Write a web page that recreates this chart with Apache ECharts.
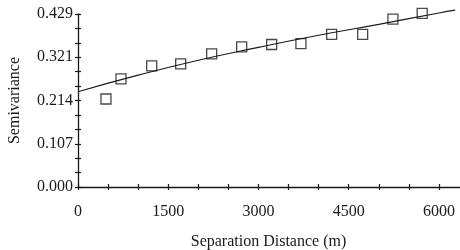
<!DOCTYPE html>
<html>
<head>
<meta charset="utf-8">
<script src="https://cdn.jsdelivr.net/npm/echarts@6/dist/echarts.min.js"></script>
<style>
  html, body { margin: 0; padding: 0; background: #fff; }
  #chart { width: 460px; height: 250px; }
</style>
</head>
<body>
<div id="chart"></div>
<script>
// observed semivariance points
var distance = [465, 715, 1225, 1707, 2222, 2721, 3219, 3706, 4217, 4732, 5235, 5722];
var semivariance = [0.218, 0.268, 0.300, 0.305, 0.330, 0.347, 0.353, 0.355, 0.378, 0.378, 0.416, 0.430];

// fitted model curve
var modelDistance = [0, 1000, 2000, 3000, 4000, 5000, 6000, 6270];
var modelValue = [0.236, 0.277, 0.314, 0.346, 0.376, 0.403, 0.431, 0.438];

// tick labels
var xTickLabels = ['0', '1500', '3000', '4500', '6000'];
var yTickLabels = ['0.000', '0.107', '0.214', '0.321', '0.429'];

var yMax = 0.4286;
var yStep = yMax / 12;
var xStep = 500;

var font = 'Liberation Serif';
var ink = '#1a1a1a';

function pairs(xs, ys) {
    var out = [];
    for (var i = 0; i < xs.length; i++) out.push([xs[i], ys[i]]);
    return out;
}

var myChart = echarts.init(document.getElementById('chart'));

var xBase = {
    type: 'value',
    min: 0,
    max: 6500,
    interval: xStep,
    splitLine: { show: false }
};
var yBase = {
    type: 'value',
    min: 0,
    max: yMax,
    interval: yStep,
    splitLine: { show: false }
};

myChart.setOption({
    animation: false,
    grid: { left: 78, right: -9, top: 14, bottom: 63, containLabel: false, outerBoundsMode: 'none' },
    xAxis: [
        Object.assign({}, xBase, {
            position: 'bottom',
            name: 'Separation Distance (m)',
            nameLocation: 'middle',
            nameGap: 47,
            nameTextStyle: { fontFamily: font, fontSize: 16, color: ink, padding: [0, 0, 0, -10] },
            axisLine: { lineStyle: { color: ink, width: 1.3 } },
            axisTick: { length: 3, lineStyle: { color: ink, width: 1.2 } },
            axisLabel: {
                fontFamily: font, fontSize: 16, color: ink, margin: 17,
                formatter: function (v) {
                    var k = Math.round(v / 1500);
                    if (Math.abs(v - k * 1500) > 1) return '';
                    return xTickLabels[k] || '';
                }
            }
        }),
        Object.assign({}, xBase, {
            position: 'bottom',
            axisLine: { show: false },
            axisTick: { inside: true, length: 3, lineStyle: { color: ink, width: 1.2 } },
            axisLabel: { show: false }
        })
    ],
    yAxis: [
        Object.assign({}, yBase, {
            position: 'left',
            name: 'Semivariance',
            nameLocation: 'middle',
            nameGap: 55,
            nameRotate: 90,
            nameTextStyle: { fontFamily: font, fontSize: 16, color: ink },
            axisLine: { lineStyle: { color: ink, width: 1.3 } },
            axisTick: { length: 3, lineStyle: { color: ink, width: 1.2 } },
            axisLabel: {
                fontFamily: font, fontSize: 16, color: ink, margin: 5,
                formatter: function (v) {
                    var k = Math.round(v / yStep);
                    if (k % 3 !== 0) return '';
                    return yTickLabels[k / 3] || '';
                }
            }
        }),
        Object.assign({}, yBase, {
            position: 'left',
            axisLine: { show: false },
            axisTick: { inside: true, length: 3, lineStyle: { color: ink, width: 1.2 } },
            axisLabel: { show: false }
        })
    ],
    series: [
        {
            name: 'model',
            type: 'line',
            data: pairs(modelDistance, modelValue),
            smooth: true,
            showSymbol: false,
            clip: false,
            lineStyle: { color: ink, width: 1.2 }
        },
        {
            name: 'observed',
            type: 'scatter',
            data: pairs(distance, semivariance),
            symbol: 'rect',
            symbolSize: 10,
            clip: false,
            itemStyle: { color: 'rgba(0,0,0,0)', borderColor: ink, borderWidth: 1.3 }
        }
    ]
});
</script>
</body>
</html>
